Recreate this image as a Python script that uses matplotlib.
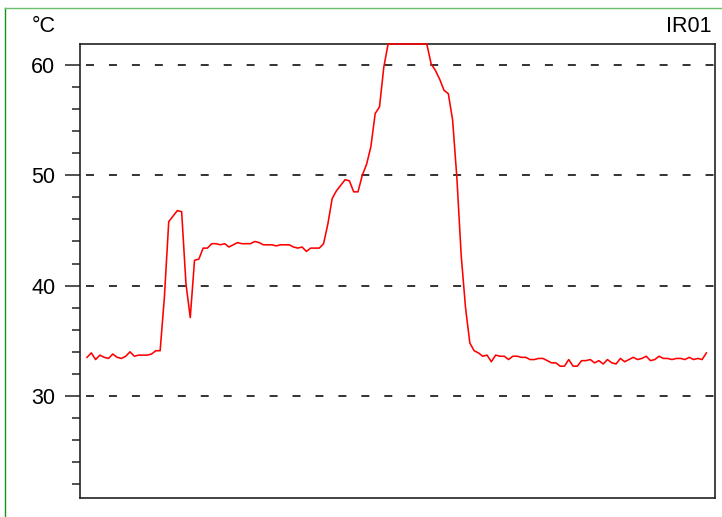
import matplotlib.pyplot as plt
import numpy as np
from matplotlib.lines import Line2D
from matplotlib.ticker import MultipleLocator

plt.rcParams['font.family'] = ['Liberation Sans', 'DejaVu Sans']

# temperature readings of IR01, one per sample
temp = [33.5, 33.9, 33.3, 33.7, 33.5, 33.4, 33.8, 33.5, 33.4, 33.6,
        34.0, 33.6, 33.7, 33.7, 33.7, 33.8, 34.1, 34.1, 39.0, 45.8,
        46.3, 46.8, 46.7, 40.2, 37.1, 42.3, 42.4, 43.4, 43.4, 43.8,
        43.8, 43.7, 43.8, 43.5, 43.7, 43.9, 43.8, 43.8, 43.8, 44.0,
        43.9, 43.7, 43.7, 43.7, 43.6, 43.7, 43.7, 43.7, 43.5, 43.4,
        43.5, 43.1, 43.4, 43.4, 43.4, 43.8, 45.6, 47.9, 48.6, 49.1,
        49.6, 49.5, 48.5, 48.5, 50.0, 51.0, 52.6, 55.6, 56.2, 59.8,
        62.0, 64.0, 65.0, 65.0, 65.0, 65.0, 65.0, 64.0, 64.0, 62.3,
        60.1, 59.5, 58.7, 57.7, 57.4, 55.0, 49.7, 42.7, 38.0, 34.8,
        34.1, 33.9, 33.6, 33.7, 33.1, 33.7, 33.6, 33.6, 33.3, 33.6,
        33.6, 33.5, 33.5, 33.3, 33.3, 33.4, 33.4, 33.2, 33.0, 33.0,
        32.7, 32.7, 33.3, 32.7, 32.7, 33.2, 33.2, 33.3, 33.0, 33.2,
        32.9, 33.3, 33.0, 32.9, 33.4, 33.1, 33.3, 33.5, 33.3, 33.4,
        33.6, 33.2, 33.3, 33.6, 33.4, 33.4, 33.3, 33.4, 33.4, 33.3,
        33.5, 33.3, 33.4, 33.3, 33.9]
samples = list(range(len(temp)))
grid_values = [30, 40, 50, 60]
unit = '°C'
channel = 'IR01'

y_lo, y_hi = 20.75, 61.9

fig = plt.figure(figsize=(7.22, 5.17), dpi=100)
ax = fig.add_axes([80 / 722, 1 - 498 / 517, 635 / 722, 454 / 517])

for g in grid_values:
    ax.axhline(g, color='#333333', lw=1.4, linestyle=(8.7, (4.1, 7.7)), zorder=1)

# the recorder pins values above the scale to the top edge
shown = np.minimum(np.array(temp), y_hi)
ax.plot(samples, shown, color='red', lw=1.15, zorder=3, clip_on=False)

ax.set_xlim(-1.63, 146.0)
ax.set_ylim(y_lo, y_hi)

ax.yaxis.set_major_locator(MultipleLocator(10))
ax.yaxis.set_minor_locator(MultipleLocator(2))
ax.tick_params(axis='y', which='major', length=10.8, width=1.1, pad=7,
               labelsize=15.5, color='#222222')
ax.tick_params(axis='y', which='minor', length=5.8, width=1.1, color='#222222')
ax.set_xticks([])

for s in ax.spines.values():
    s.set_linewidth(1.2)
    s.set_color('#222222')

fig.text(56 / 722, 1 - 32 / 517, unit, ha='right', va='baseline', fontsize=15.5)
fig.text(712 / 722, 1 - 32 / 517, channel, ha='right', va='baseline', fontsize=15.5)

# green frame around the whole picture
fx = 4.5 / 722
fy = 1 - 7.5 / 517
fig.add_artist(Line2D([fx, fx], [0, fy], transform=fig.transFigure,
                      color='#1a8f1a', lw=1.0))
fig.add_artist(Line2D([fx, 1], [fy, fy], transform=fig.transFigure,
                      color='#6cbf6c', lw=1.0))

fig.savefig('out.png', dpi=100)
